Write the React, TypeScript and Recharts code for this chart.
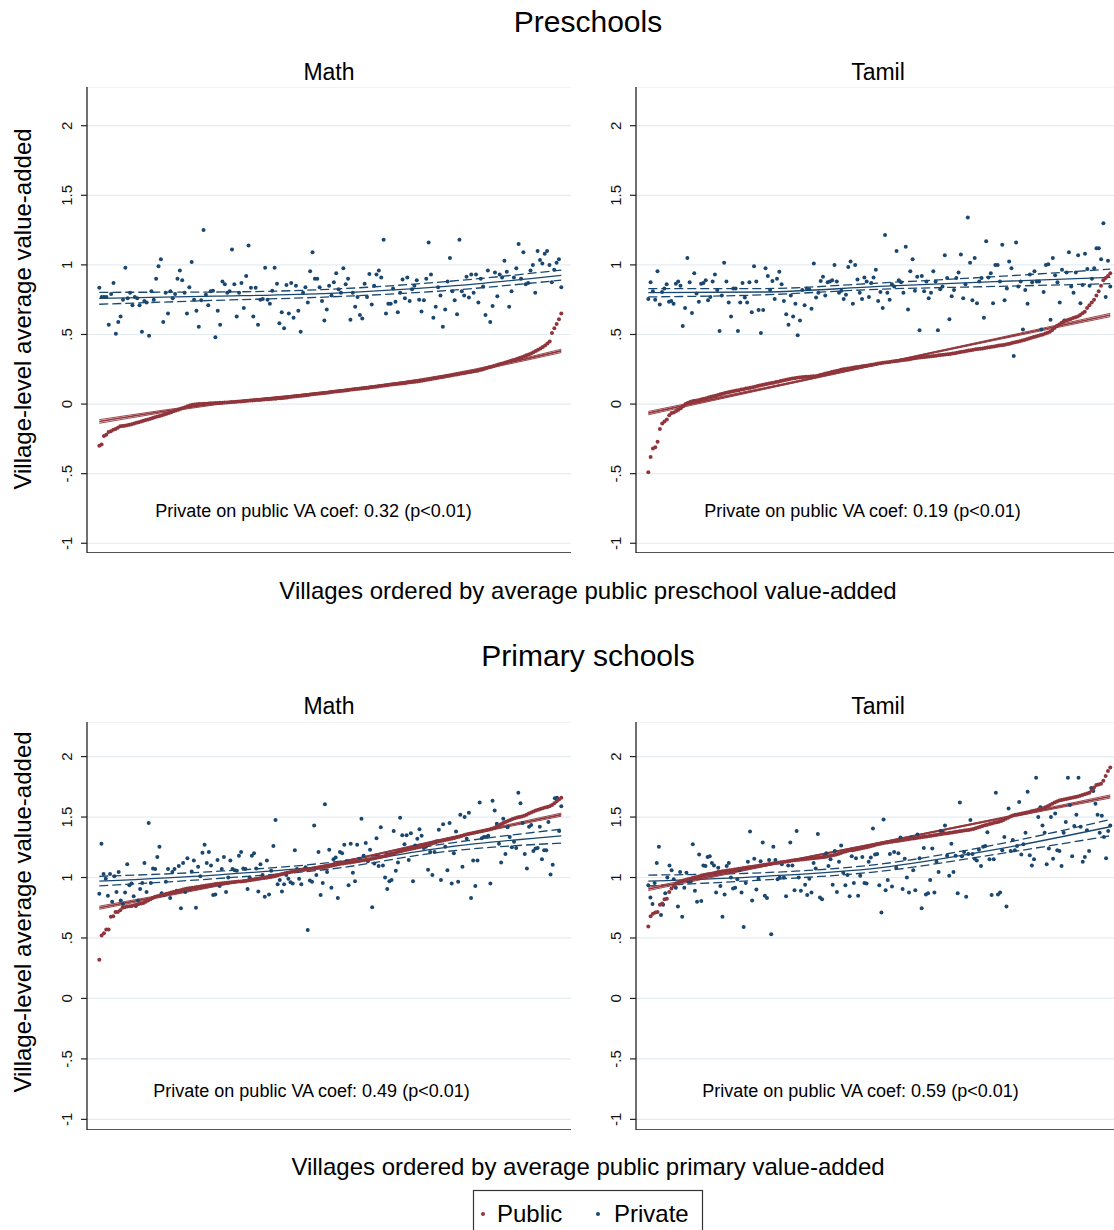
import { CartesianGrid, ComposedChart, Line, ReferenceLine, Scatter, XAxis, YAxis } from 'recharts';

const PUBLIC_COLOR = '#90353b';
const PRIVATE_COLOR = '#1a476f';
const FONT = "'Liberation Sans', Arial, Helvetica, sans-serif";

const Y_TICKS = [-1, -0.5, 0, 0.5, 1, 1.5, 2];
const Y_TICK_LABELS = ['-1', '-.5', '0', '.5', '1', '1.5', '2'];

// knots (share of the village ranking) for the fitted curves
const FIT_X = [0, 0.25, 0.5, 0.75, 1];

// ---- Preschools, Math ----
const PRE_MATH_PUBLIC = [
    -0.3, -0.29, -0.23, -0.22, -0.2, -0.195, -0.185, -0.18, -0.17, -0.16,
    -0.158, -0.155, -0.152, -0.148, -0.145, -0.14, -0.135, -0.13, -0.125, -0.12,
    -0.115, -0.11, -0.105, -0.1, -0.095, -0.09, -0.085, -0.08, -0.075, -0.07,
    -0.064, -0.058, -0.052, -0.046, -0.04, -0.034, -0.028, -0.022, -0.016, -0.011,
    -0.005, -0.003, -0.001, 0.0, 0.001, 0.002, 0.003, 0.004, 0.005, 0.006,
    0.007, 0.008, 0.009, 0.01, 0.011, 0.012, 0.013, 0.014, 0.015, 0.016,
    0.018, 0.019, 0.021, 0.022, 0.023, 0.025, 0.026, 0.027, 0.029, 0.03,
    0.031, 0.033, 0.034, 0.035, 0.037, 0.038, 0.039, 0.041, 0.042, 0.044,
    0.046, 0.048, 0.05, 0.052, 0.054, 0.056, 0.058, 0.06, 0.062, 0.064,
    0.066, 0.068, 0.07, 0.072, 0.074, 0.076, 0.078, 0.08, 0.082, 0.084,
    0.086, 0.088, 0.09, 0.092, 0.094, 0.096, 0.098, 0.1, 0.102, 0.104,
    0.106, 0.108, 0.11, 0.112, 0.114, 0.116, 0.118, 0.12, 0.122, 0.125,
    0.127, 0.129, 0.131, 0.133, 0.135, 0.138, 0.14, 0.142, 0.144, 0.146,
    0.148, 0.15, 0.152, 0.155, 0.157, 0.159, 0.161, 0.163, 0.165, 0.168,
    0.171, 0.174, 0.177, 0.18, 0.183, 0.186, 0.189, 0.192, 0.195, 0.198,
    0.201, 0.204, 0.207, 0.21, 0.213, 0.216, 0.219, 0.222, 0.225, 0.228,
    0.231, 0.234, 0.237, 0.24, 0.244, 0.249, 0.254, 0.259, 0.264, 0.269,
    0.274, 0.279, 0.284, 0.289, 0.294, 0.299, 0.304, 0.309, 0.314, 0.319,
    0.325, 0.331, 0.337, 0.343, 0.35, 0.357, 0.364, 0.373, 0.382, 0.391,
    0.4, 0.41, 0.42, 0.435, 0.45, 0.51, 0.545, 0.575, 0.61, 0.65,
];
const PRE_MATH_PRIVATE = [
    0.835, 0.77, 0.77, 0.77, 0.57, 0.79, 0.87, 0.505, 0.59, 0.63, 0.75, 0.98, 0.76, 0.8, 0.71,
    0.77, 0.76, 0.71, 0.52, 0.74, 0.73, 0.49, 0.81, 0.75, 0.9, 0.99, 1.04, 0.59, 0.8, 0.65,
    0.81, 0.76, 0.79, 0.9, 0.96, 0.89, 0.8, 0.65, 0.84, 1.02, 0.75, 0.67, 0.555, 0.745, 1.25,
    0.785, 0.71, 0.81, 0.815, 0.48, 0.67, 0.57, 0.88, 0.86, 0.8, 0.81, 1.11, 0.86, 0.63, 0.8,
    0.87, 0.69, 0.92, 1.14, 0.835, 0.63, 0.835, 0.57, 0.75, 0.755, 0.98, 0.75, 0.72, 0.815, 0.98,
    0.865, 0.58, 0.66, 0.545, 0.855, 0.65, 0.87, 0.62, 0.85, 0.67, 0.52, 0.8, 0.84, 0.73, 0.955,
    1.09, 0.9, 0.9, 0.84, 0.74,
    0.6, 0.68, 0.85, 0.78, 0.875, 0.94, 0.825, 0.8, 0.975, 0.86, 0.9, 0.605, 0.8, 0.7, 0.77,
    0.64, 0.615, 0.865, 0.77, 0.935, 0.715, 0.85, 0.93, 0.96, 0.91, 1.18, 0.65, 0.72, 0.72, 0.83,
    0.735, 0.66, 0.8, 0.895, 0.76, 0.91, 0.74, 0.825, 0.85, 0.89, 0.75, 0.665, 0.745, 0.9, 1.16,
    0.93, 0.62, 0.7, 0.84, 0.78, 0.555, 0.68, 0.88, 1.05, 0.81, 0.745, 0.645, 1.18, 0.81, 0.78,
    0.915, 0.765, 0.93, 0.8, 0.93, 0.73, 0.9, 0.845, 0.64, 0.96, 0.59, 0.705, 0.945, 0.775, 0.93,
    0.91, 1.03, 0.95, 0.7, 0.81, 0.91, 0.975, 1.15, 0.9, 1.09, 0.86, 0.87, 0.96, 1.0, 0.8,
    1.1, 1.035, 1.01, 1.08, 1.1, 1.0, 0.875, 0.965, 1.015, 1.04, 0.84,
];
const PRE_MATH_PUBLIC_FIT = [-0.125, 0.0, 0.09, 0.205, 0.382];
const PRE_MATH_PUBLIC_UPPER = [-0.112, 0.006, 0.094, 0.211, 0.394];
const PRE_MATH_PUBLIC_LOWER = [-0.138, -0.006, 0.086, 0.199, 0.37];
const PRE_MATH_PRIVATE_FIT = [0.76, 0.775, 0.796, 0.845, 0.925];
const PRE_MATH_PRIVATE_UPPER = [0.803, 0.805, 0.825, 0.88, 0.963];
const PRE_MATH_PRIVATE_LOWER = [0.717, 0.745, 0.77, 0.815, 0.89];

// ---- Preschools, Tamil ----
const PRE_TAMIL_PUBLIC = [
    -0.49, -0.38, -0.32, -0.31, -0.27, -0.18, -0.14, -0.125, -0.11, -0.08,
    -0.065, -0.06, -0.05, -0.04, -0.03, -0.015, 0.0, 0.007, 0.014, 0.02,
    0.023, 0.026, 0.03, 0.034, 0.038, 0.042, 0.047, 0.052, 0.056, 0.06,
    0.065, 0.07, 0.075, 0.08, 0.083, 0.087, 0.09, 0.094, 0.097, 0.1,
    0.104, 0.107, 0.111, 0.114, 0.118, 0.121, 0.125, 0.129, 0.133, 0.137,
    0.14, 0.144, 0.147, 0.151, 0.154, 0.158, 0.161, 0.165, 0.169, 0.173,
    0.177, 0.18, 0.183, 0.186, 0.189, 0.191, 0.193, 0.195, 0.196, 0.197,
    0.198, 0.199, 0.2, 0.204, 0.208, 0.212, 0.217, 0.221, 0.225, 0.23,
    0.234, 0.238, 0.242, 0.246, 0.25, 0.252, 0.255, 0.258, 0.261, 0.264,
    0.266, 0.268, 0.271, 0.274, 0.276, 0.279, 0.282, 0.285, 0.288, 0.291,
    0.294, 0.296, 0.298, 0.3, 0.302, 0.305, 0.307, 0.309, 0.311, 0.314,
    0.316, 0.318, 0.321, 0.324, 0.327, 0.33, 0.332, 0.334, 0.336, 0.338,
    0.34, 0.342, 0.344, 0.346, 0.348, 0.35, 0.352, 0.354, 0.356, 0.358,
    0.36, 0.363, 0.366, 0.369, 0.372, 0.375, 0.378, 0.381, 0.384, 0.387,
    0.39, 0.393, 0.396, 0.398, 0.4, 0.403, 0.406, 0.409, 0.411, 0.414,
    0.417, 0.42, 0.423, 0.425, 0.428, 0.432, 0.436, 0.44, 0.444, 0.448,
    0.452, 0.456, 0.461, 0.466, 0.471, 0.476, 0.481, 0.486, 0.491, 0.496,
    0.5, 0.507, 0.513, 0.52, 0.533, 0.546, 0.56, 0.572, 0.584, 0.594,
    0.6, 0.606, 0.612, 0.618, 0.624, 0.63, 0.64, 0.652, 0.664, 0.69,
    0.71, 0.73, 0.75, 0.78, 0.81, 0.85, 0.89, 0.905, 0.92, 0.94,
];
const PRE_TAMIL_PRIVATE = [
    0.755, 0.875, 0.81, 0.75, 0.955, 0.715, 0.805, 0.83, 0.86, 0.735, 0.74, 0.72, 0.865, 0.88, 0.85,
    0.56, 0.69, 1.05, 0.875, 0.655, 0.94, 0.795, 0.735, 0.865, 0.87, 0.89, 0.745, 0.77, 0.88, 0.93,
    0.82, 0.525, 0.78, 1.015, 0.88, 0.73, 0.63, 0.83, 0.83, 0.525, 0.73, 0.87, 0.765, 0.73, 0.875,
    0.66, 0.99, 0.88, 0.675, 0.51, 0.675, 0.975, 0.92, 0.82, 0.885, 0.755, 0.9, 0.95, 0.86, 0.74,
    0.645, 0.57, 0.78, 0.63, 0.72, 0.495, 0.6, 0.82, 0.71, 0.83, 0.825, 0.685, 1.01, 0.765, 0.8,
    0.885, 0.915, 0.78, 0.875, 0.88, 0.89, 1.0, 0.88, 0.8, 0.815, 0.755, 0.785, 0.985, 1.025, 0.72,
    1.0, 0.895,
    0.8, 0.755, 0.91, 0.88, 0.77, 0.87, 0.91, 0.965, 0.74, 0.805, 0.69, 1.215, 0.8, 0.75, 0.86,
    0.845, 1.1, 0.89, 0.875, 0.8, 1.13, 0.68, 0.955, 1.04, 0.815, 0.915, 0.53, 0.92, 0.81, 0.88,
    0.76, 0.8, 0.955, 0.88, 0.53, 0.825, 0.845, 1.07, 0.905, 0.61, 0.775, 0.82, 0.905, 0.945, 1.075,
    0.76, 0.86, 1.34, 1.015, 0.745, 1.05, 0.725, 0.88, 0.905, 0.62, 1.17, 0.91, 0.94, 0.725, 1.0,
    1.0, 0.88, 1.145, 0.745, 0.83, 1.025, 0.975, 0.345, 1.16, 0.845, 0.88, 0.535, 0.82, 0.72, 0.93,
    0.875, 0.955, 0.88, 0.88, 0.535, 0.805, 1.0, 1.005, 0.605, 1.05, 0.925, 0.875, 0.73, 0.965, 0.6,
    0.945, 1.09, 0.845, 0.8, 0.945, 1.07, 0.725, 0.855, 1.08, 0.97, 0.85, 0.9, 0.975, 1.12, 1.12,
    1.04, 1.3, 0.77, 1.03, 0.845,
];
const PRE_TAMIL_PUBLIC_FIT = [-0.065, 0.111, 0.2875, 0.464, 0.64];
const PRE_TAMIL_PUBLIC_UPPER = [-0.053, 0.117, 0.291, 0.47, 0.652];
const PRE_TAMIL_PUBLIC_LOWER = [-0.077, 0.105, 0.284, 0.458, 0.628];
const PRE_TAMIL_PRIVATE_FIT = [0.8, 0.805, 0.845, 0.88, 0.91];
const PRE_TAMIL_PRIVATE_UPPER = [0.83, 0.83, 0.87, 0.915, 0.97];
const PRE_TAMIL_PRIVATE_LOWER = [0.77, 0.785, 0.825, 0.845, 0.865];

// ---- Primary schools, Math ----
const PRI_MATH_PUBLIC = [
    0.32, 0.52, 0.54, 0.57, 0.57, 0.675, 0.68, 0.715, 0.715, 0.73,
    0.75, 0.755, 0.76, 0.762, 0.765, 0.77, 0.775, 0.78, 0.785, 0.79,
    0.8, 0.81, 0.82, 0.83, 0.84, 0.845, 0.85, 0.855, 0.86, 0.865,
    0.87, 0.875, 0.88, 0.885, 0.89, 0.895, 0.9, 0.905, 0.91, 0.912,
    0.915, 0.918, 0.921, 0.924, 0.927, 0.93, 0.933, 0.936, 0.94, 0.943,
    0.946, 0.949, 0.95, 0.952, 0.954, 0.956, 0.958, 0.96, 0.962, 0.964,
    0.966, 0.968, 0.97, 0.972, 0.975, 0.978, 0.981, 0.984, 0.987, 0.99,
    0.993, 0.996, 0.999, 1.002, 1.005, 1.008, 1.012, 1.018, 1.024, 1.03,
    1.036, 1.04, 1.044, 1.048, 1.052, 1.056, 1.06, 1.062, 1.064, 1.066,
    1.068, 1.07, 1.072, 1.075, 1.078, 1.081, 1.084, 1.087, 1.09, 1.094,
    1.098, 1.102, 1.106, 1.11, 1.113, 1.116, 1.119, 1.122, 1.125, 1.128,
    1.131, 1.134, 1.137, 1.14, 1.143, 1.146, 1.15, 1.154, 1.158, 1.162,
    1.166, 1.17, 1.174, 1.178, 1.182, 1.188, 1.194, 1.2, 1.206, 1.212,
    1.218, 1.224, 1.228, 1.232, 1.236, 1.24, 1.244, 1.248, 1.252, 1.257,
    1.262, 1.268, 1.274, 1.28, 1.286, 1.292, 1.298, 1.302, 1.306, 1.31,
    1.314, 1.318, 1.322, 1.327, 1.332, 1.338, 1.344, 1.35, 1.356, 1.36,
    1.364, 1.368, 1.372, 1.376, 1.38, 1.384, 1.388, 1.392, 1.397, 1.403,
    1.41, 1.42, 1.43, 1.44, 1.45, 1.46, 1.468, 1.476, 1.484, 1.49,
    1.496, 1.5, 1.505, 1.51, 1.52, 1.53, 1.538, 1.546, 1.554, 1.56,
    1.566, 1.572, 1.578, 1.584, 1.59, 1.6, 1.615, 1.63, 1.645, 1.66,
];
const PRI_MATH_PRIVATE = [
    0.865, 1.28, 1.03, 0.99, 0.85, 1.03, 0.8, 1.01, 0.88, 1.045, 0.81, 0.78, 0.875, 1.11, 0.935,
    0.95, 0.845, 0.765, 0.81, 0.905, 0.955, 1.12, 0.88, 1.45, 0.955, 1.075, 1.07, 1.17, 1.255, 0.87,
    0.855, 0.965, 1.07, 0.83, 1.045, 1.07, 0.89, 1.095, 0.745, 1.12, 0.88, 1.16, 0.91, 1.05, 1.14,
    0.75, 1.09, 1.01, 1.205, 1.27, 1.12, 1.21, 1.1, 0.855, 0.86, 1.145, 0.93, 1.07, 1.17, 0.88,
    1.0, 1.14, 1.07, 1.06, 1.055, 1.18, 1.21, 1.075, 1.07, 0.905, 1.0, 1.18, 1.2, 1.075, 0.885,
    1.11, 1.02, 0.84, 1.14, 0.86, 1.055, 1.26, 1.475, 0.945, 0.98, 0.885, 0.945, 1.02, 0.99, 0.96,
    0.95, 1.225, 1.07, 0.99, 0.945, 1.065, 1.085, 0.565, 0.975, 0.965, 1.43, 1.02, 1.21, 0.855,
    0.955, 1.605, 1.045, 1.23, 0.915, 1.15, 1.165, 0.83, 1.21, 1.2, 1.27, 1.135, 0.935, 1.28, 1.04,
    0.97, 1.27, 1.155, 1.485, 1.18, 1.285, 1.135, 1.23, 0.755, 1.115, 1.325, 1.095, 1.415, 1.1, 1.0,
    0.905, 0.97, 0.98, 1.385, 1.055, 1.125, 1.495, 1.35, 1.275, 1.35, 1.145, 1.365, 0.97, 1.265, 1.32,
    1.4, 1.345, 1.245, 1.255, 1.065, 1.21, 1.02, 1.21, 1.3, 1.395, 0.98, 1.44, 1.255, 1.06, 1.45,
    0.95, 1.2, 1.38, 0.965, 1.52, 1.09, 1.5, 1.32, 1.535, 0.83, 1.14, 0.93, 1.14, 1.62, 1.325,
    1.335, 1.335, 1.345, 0.95, 1.635, 1.555, 1.445, 1.28, 1.125, 1.485, 1.195, 1.415, 1.335, 1.25, 1.295,
    1.245, 1.7, 1.615, 1.45, 1.195, 1.075, 1.42, 1.435, 1.22, 1.24, 1.245, 1.42, 1.15, 1.225, 1.225,
    1.46, 1.025, 1.105, 1.655, 1.66, 1.385, 1.59,
];
const PRI_MATH_PUBLIC_FIT = [0.75, 0.93, 1.11, 1.32, 1.52];
const PRI_MATH_PUBLIC_UPPER = [0.763, 0.936, 1.114, 1.326, 1.533];
const PRI_MATH_PUBLIC_LOWER = [0.737, 0.924, 1.106, 1.314, 1.507];
const PRI_MATH_PRIVATE_FIT = [0.97, 1.02, 1.1, 1.25, 1.345];
const PRI_MATH_PRIVATE_UPPER = [1.01, 1.05, 1.125, 1.28, 1.4];
const PRI_MATH_PRIVATE_LOWER = [0.93, 0.99, 1.07, 1.215, 1.285];

// ---- Primary schools, Tamil ----
const PRI_TAMIL_PUBLIC = [
    0.595, 0.68, 0.7, 0.71, 0.715, 0.775, 0.785, 0.82, 0.825, 0.88,
    0.91, 0.93, 0.95, 0.96, 0.97, 0.975, 0.98, 0.985, 0.99, 0.995,
    1.0, 1.005, 1.01, 1.015, 1.02, 1.024, 1.028, 1.032, 1.036, 1.04,
    1.045, 1.048, 1.051, 1.054, 1.057, 1.06, 1.063, 1.066, 1.069, 1.072,
    1.075, 1.078, 1.081, 1.084, 1.087, 1.09, 1.093, 1.096, 1.099, 1.102,
    1.105, 1.108, 1.111, 1.114, 1.117, 1.12, 1.123, 1.126, 1.129, 1.131,
    1.134, 1.137, 1.14, 1.143, 1.145, 1.147, 1.149, 1.151, 1.153, 1.155,
    1.157, 1.159, 1.161, 1.163, 1.165, 1.167, 1.17, 1.174, 1.178, 1.182,
    1.186, 1.19, 1.196, 1.202, 1.21, 1.216, 1.222, 1.225, 1.225, 1.23,
    1.234, 1.238, 1.242, 1.246, 1.25, 1.255, 1.26, 1.265, 1.27, 1.275,
    1.28, 1.284, 1.287, 1.29, 1.293, 1.296, 1.299, 1.302, 1.305, 1.308,
    1.311, 1.314, 1.317, 1.32, 1.322, 1.325, 1.328, 1.331, 1.334, 1.337,
    1.34, 1.343, 1.346, 1.349, 1.352, 1.355, 1.358, 1.361, 1.364, 1.367,
    1.37, 1.373, 1.376, 1.379, 1.382, 1.385, 1.388, 1.39, 1.393, 1.397,
    1.402, 1.408, 1.414, 1.42, 1.426, 1.432, 1.437, 1.442, 1.447, 1.452,
    1.457, 1.462, 1.468, 1.476, 1.485, 1.495, 1.505, 1.513, 1.518, 1.522,
    1.526, 1.53, 1.534, 1.538, 1.542, 1.547, 1.552, 1.557, 1.562, 1.567,
    1.572, 1.58, 1.59, 1.6, 1.61, 1.62, 1.628, 1.636, 1.642, 1.646,
    1.65, 1.654, 1.658, 1.662, 1.666, 1.67, 1.676, 1.682, 1.688, 1.694,
    1.7, 1.72, 1.745, 1.765, 1.77, 1.775, 1.8, 1.84, 1.88, 1.91,
];
const PRI_TAMIL_PRIVATE = [
    0.935, 0.835, 0.78, 0.955, 1.12, 1.255, 0.69, 0.775, 0.87, 1.0, 1.1, 1.06, 0.985, 0.915, 0.76,
    1.045, 0.675, 0.915, 1.04, 0.965, 0.965, 1.275, 0.89, 0.8, 1.19, 0.805, 1.1, 1.095, 1.17, 1.175,
    1.12, 1.1, 0.875, 1.08, 0.93, 0.675, 0.86, 1.095, 1.12, 1.0, 0.91, 0.915, 0.985, 1.06, 0.875,
    0.59, 0.955, 1.13, 1.38, 0.81, 1.155, 0.9, 0.99, 1.135, 1.29, 0.85, 0.83, 1.145, 0.53, 1.255,
    1.145, 0.985, 1.0, 1.11, 1.0, 0.845, 1.1, 1.29, 1.1, 0.895, 1.385, 1.0, 0.89, 1.15, 0.94,
    0.855, 0.99, 0.875, 1.12, 1.075, 1.36, 0.835, 0.82, 1.175, 1.2, 1.095, 1.15, 0.94, 1.22, 0.88,
    1.13, 1.265, 1.04, 0.935, 1.02, 0.845, 1.175, 0.955,
    1.16, 0.85, 1.015, 1.17, 0.955, 0.95, 1.13, 1.165, 1.405, 1.19, 1.195, 0.935, 0.71, 1.48, 0.895,
    0.98, 1.195, 0.925, 1.21, 1.08, 1.2, 1.33, 0.905, 1.155, 1.0, 0.875, 1.33, 1.06, 0.895, 1.355,
    1.16, 0.745, 1.245, 0.86, 0.87, 0.98, 1.24, 0.875, 1.13, 1.045, 1.385, 1.375, 1.43, 1.18, 1.015,
    1.28, 1.045, 1.18, 0.87, 1.62, 1.175, 1.21, 0.84, 1.195, 1.475, 1.195, 1.155, 1.14, 1.23, 1.095,
    1.255, 1.26, 1.375, 1.15, 0.855, 1.15, 1.7, 0.86, 0.875, 1.225, 1.335, 0.76, 1.57, 1.22, 1.31,
    1.225, 1.26, 1.625, 1.19, 1.275, 1.37, 1.71, 1.185, 1.1, 1.15, 1.825, 1.5, 1.58, 1.43, 1.37,
    1.11, 1.24, 1.5, 1.155, 1.53, 1.225, 1.22, 1.095, 1.37, 1.46, 1.825, 1.6, 1.175, 1.425, 1.52,
    1.825, 1.42, 1.13, 1.17, 1.39, 1.22, 1.74, 1.715, 1.61, 1.52, 1.37, 1.51, 1.335, 1.16, 1.385,
    1.43,
];
const PRI_TAMIL_PUBLIC_FIT = [0.905, 1.096, 1.2875, 1.479, 1.67];
const PRI_TAMIL_PUBLIC_UPPER = [0.918, 1.102, 1.291, 1.485, 1.683];
const PRI_TAMIL_PUBLIC_LOWER = [0.892, 1.09, 1.284, 1.473, 1.657];
const PRI_TAMIL_PRIVATE_FIT = [0.97, 1.01, 1.08, 1.23, 1.42];
const PRI_TAMIL_PRIVATE_UPPER = [1.02, 1.04, 1.11, 1.27, 1.48];
const PRI_TAMIL_PRIVATE_LOWER = [0.93, 0.98, 1.05, 1.19, 1.345];

const TOP_Y_DOMAIN: [number, number] = [-1.07, 2.278];
const BOTTOM_Y_DOMAIN: [number, number] = [-1.088, 2.286];
const X_DOMAIN: [number, number] = [-0.0266, 1.021];

const Y_AXIS_WIDTH = 50;
const TICK_BASE_X = 35.4;

type Point = { x: number; y: number };

// villages ranked 0..1 by their position in the sorted list
const toRanked = (values: number[]): Point[] =>
    values.map((y, i) => ({ x: i / (values.length - 1), y }));

const toCurve = (ys: number[]): Point[] => ys.map((y, i) => ({ x: FIT_X[i], y }));

const YTick = ({ y, payload }: { y?: number; payload?: { value: number } }) => {
    const label = Y_TICK_LABELS[Y_TICKS.indexOf(payload?.value ?? NaN)];
    return (
        <text
            x={TICK_BASE_X}
            y={y}
            transform={`rotate(-90, ${TICK_BASE_X}, ${y})`}
            textAnchor='middle'
            fontSize={15}
            fontFamily={FONT}
            fill='#111'
        >
            {label}
        </text>
    );
};

const dot = (color: string) => (props: { cx?: number; cy?: number }) => (
    <circle cx={props.cx} cy={props.cy} r={2} fill={color} />
);

type PanelProps = {
    left: number;
    top: number;
    width: number;
    height: number;
    yDomain: [number, number];
    publicValues: number[];
    privateValues: number[];
    publicFit: number[];
    publicUpper: number[];
    publicLower: number[];
    privateFit: number[];
    privateUpper: number[];
    privateLower: number[];
};

const Panel = ({
    left,
    top,
    width,
    height,
    yDomain,
    publicValues,
    privateValues,
    publicFit,
    publicUpper,
    publicLower,
    privateFit,
    privateUpper,
    privateLower,
}: PanelProps) => (
    <div style={{ position: 'absolute', left, top }}>
        <ComposedChart width={width} height={height} margin={{ top: 0, right: 0, bottom: 0, left: 0 }}>
            <CartesianGrid vertical={false} stroke='#e5ecf0' strokeWidth={1.2} />
            <XAxis type='number' dataKey='x' domain={X_DOMAIN} allowDataOverflow hide />
            <YAxis
                type='number'
                dataKey='y'
                domain={yDomain}
                allowDataOverflow
                ticks={Y_TICKS}
                interval={0}
                width={Y_AXIS_WIDTH}
                tickSize={6}
                tickLine={{ stroke: '#222', strokeWidth: 1.2 }}
                axisLine={{ stroke: '#222', strokeWidth: 1.3 }}
                tick={<YTick />}
            />
            <ReferenceLine y={yDomain[0]} stroke='#555' strokeWidth={2} />
            <Scatter
                data={toRanked(privateValues)}
                dataKey='y'
                shape={dot(PRIVATE_COLOR)}
                isAnimationActive={false}
            />
            <Line
                data={toCurve(privateUpper)}
                dataKey='y'
                type='monotone'
                stroke={PRIVATE_COLOR}
                strokeWidth={1.3}
                strokeDasharray='9 4'
                dot={false}
                activeDot={false}
                isAnimationActive={false}
            />
            <Line
                data={toCurve(privateLower)}
                dataKey='y'
                type='monotone'
                stroke={PRIVATE_COLOR}
                strokeWidth={1.3}
                strokeDasharray='9 4'
                dot={false}
                activeDot={false}
                isAnimationActive={false}
            />
            <Line
                data={toCurve(privateFit)}
                dataKey='y'
                type='monotone'
                stroke={PRIVATE_COLOR}
                strokeWidth={1.3}
                dot={false}
                activeDot={false}
                isAnimationActive={false}
            />
            <Scatter
                data={toRanked(publicValues)}
                dataKey='y'
                shape={dot(PUBLIC_COLOR)}
                isAnimationActive={false}
            />
            <Line
                data={toCurve(publicUpper)}
                dataKey='y'
                type='monotone'
                stroke={PUBLIC_COLOR}
                strokeWidth={0.9}
                dot={false}
                activeDot={false}
                isAnimationActive={false}
            />
            <Line
                data={toCurve(publicLower)}
                dataKey='y'
                type='monotone'
                stroke={PUBLIC_COLOR}
                strokeWidth={0.9}
                dot={false}
                activeDot={false}
                isAnimationActive={false}
            />
            <Line
                data={toCurve(publicFit)}
                dataKey='y'
                type='monotone'
                stroke={PUBLIC_COLOR}
                strokeWidth={1.6}
                dot={false}
                activeDot={false}
                isAnimationActive={false}
            />
        </ComposedChart>
    </div>
);

const textStyle = { fontFamily: FONT, fill: '#000' };

export default function App() {
    return (
        <div
            style={{
                position: 'absolute',
                left: 0,
                top: 0,
                width: 1114,
                height: 1230,
                overflow: 'hidden',
                background: '#fff',
            }}
        >
            <Panel
                left={37}
                top={87}
                width={534}
                height={466}
                yDomain={TOP_Y_DOMAIN}
                publicValues={PRE_MATH_PUBLIC}
                privateValues={PRE_MATH_PRIVATE}
                publicFit={PRE_MATH_PUBLIC_FIT}
                publicUpper={PRE_MATH_PUBLIC_UPPER}
                publicLower={PRE_MATH_PUBLIC_LOWER}
                privateFit={PRE_MATH_PRIVATE_FIT}
                privateUpper={PRE_MATH_PRIVATE_UPPER}
                privateLower={PRE_MATH_PRIVATE_LOWER}
            />
            <Panel
                left={586}
                top={87}
                width={534}
                height={466}
                yDomain={TOP_Y_DOMAIN}
                publicValues={PRE_TAMIL_PUBLIC}
                privateValues={PRE_TAMIL_PRIVATE}
                publicFit={PRE_TAMIL_PUBLIC_FIT}
                publicUpper={PRE_TAMIL_PUBLIC_UPPER}
                publicLower={PRE_TAMIL_PUBLIC_LOWER}
                privateFit={PRE_TAMIL_PRIVATE_FIT}
                privateUpper={PRE_TAMIL_PRIVATE_UPPER}
                privateLower={PRE_TAMIL_PRIVATE_LOWER}
            />
            <Panel
                left={37}
                top={722}
                width={534}
                height={408}
                yDomain={BOTTOM_Y_DOMAIN}
                publicValues={PRI_MATH_PUBLIC}
                privateValues={PRI_MATH_PRIVATE}
                publicFit={PRI_MATH_PUBLIC_FIT}
                publicUpper={PRI_MATH_PUBLIC_UPPER}
                publicLower={PRI_MATH_PUBLIC_LOWER}
                privateFit={PRI_MATH_PRIVATE_FIT}
                privateUpper={PRI_MATH_PRIVATE_UPPER}
                privateLower={PRI_MATH_PRIVATE_LOWER}
            />
            <Panel
                left={586}
                top={722}
                width={534}
                height={408}
                yDomain={BOTTOM_Y_DOMAIN}
                publicValues={PRI_TAMIL_PUBLIC}
                privateValues={PRI_TAMIL_PRIVATE}
                publicFit={PRI_TAMIL_PUBLIC_FIT}
                publicUpper={PRI_TAMIL_PUBLIC_UPPER}
                publicLower={PRI_TAMIL_PUBLIC_LOWER}
                privateFit={PRI_TAMIL_PRIVATE_FIT}
                privateUpper={PRI_TAMIL_PRIVATE_UPPER}
                privateLower={PRI_TAMIL_PRIVATE_LOWER}
            />
            <svg
                width={1114}
                height={1230}
                style={{ position: 'absolute', left: 0, top: 0, pointerEvents: 'none' }}
            >
                <text x={588} y={31.5} fontSize={30} textAnchor='middle' style={textStyle}>
                    Preschools
                </text>
                <text x={329} y={80} fontSize={23} textAnchor='middle' style={textStyle}>
                    Math
                </text>
                <text x={878} y={80} fontSize={23} textAnchor='middle' style={textStyle}>
                    Tamil
                </text>
                <text
                    x={31}
                    y={309}
                    fontSize={24}
                    textAnchor='middle'
                    transform='rotate(-90, 31, 309)'
                    style={textStyle}
                >
                    Village-level average value-added
                </text>
                <text x={313.5} y={516.5} fontSize={18} textAnchor='middle' style={textStyle}>
                    Private on public VA coef: 0.32 (p&lt;0.01)
                </text>
                <text x={862.5} y={516.5} fontSize={18} textAnchor='middle' style={textStyle}>
                    Private on public VA coef: 0.19 (p&lt;0.01)
                </text>
                <text x={588} y={599} fontSize={24} textAnchor='middle' style={textStyle}>
                    Villages ordered by average public preschool value-added
                </text>

                <text x={588} y={666} fontSize={30} textAnchor='middle' style={textStyle}>
                    Primary schools
                </text>
                <text x={329} y={714} fontSize={23} textAnchor='middle' style={textStyle}>
                    Math
                </text>
                <text x={878} y={714} fontSize={23} textAnchor='middle' style={textStyle}>
                    Tamil
                </text>
                <text
                    x={31}
                    y={912}
                    fontSize={24}
                    textAnchor='middle'
                    transform='rotate(-90, 31, 912)'
                    style={textStyle}
                >
                    Village-level average value-added
                </text>
                <text x={311.5} y={1096.5} fontSize={18} textAnchor='middle' style={textStyle}>
                    Private on public VA coef: 0.49 (p&lt;0.01)
                </text>
                <text x={860.5} y={1096.5} fontSize={18} textAnchor='middle' style={textStyle}>
                    Private on public VA coef: 0.59 (p&lt;0.01)
                </text>
                <text x={588} y={1175} fontSize={24} textAnchor='middle' style={textStyle}>
                    Villages ordered by average public primary value-added
                </text>

                <rect x={473.5} y={1190.5} width={229} height={60} fill='none' stroke='#333' strokeWidth={1.2} />
                <circle cx={483} cy={1214} r={2} fill={PUBLIC_COLOR} />
                <text x={497} y={1222} fontSize={24} style={textStyle}>
                    Public
                </text>
                <circle cx={598} cy={1214} r={2} fill={PRIVATE_COLOR} />
                <text x={614} y={1222} fontSize={24} style={textStyle}>
                    Private
                </text>
            </svg>
        </div>
    );
}
